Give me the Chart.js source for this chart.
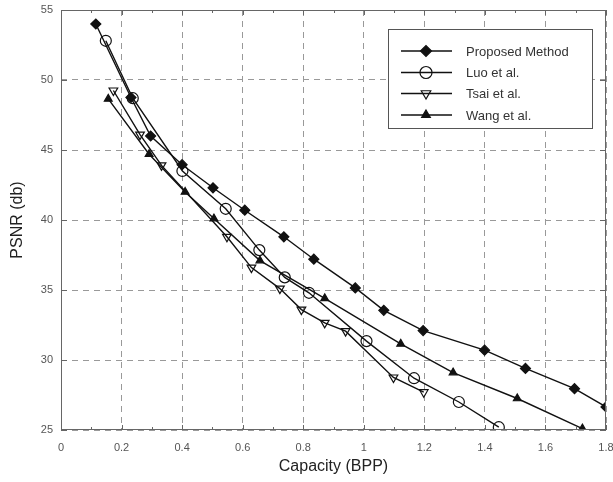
<!DOCTYPE html>
<html><head><meta charset="utf-8">
<script src="https://cdn.jsdelivr.net/npm/chart.js@4/dist/chart.umd.min.js"></script>
<style>html,body{margin:0;padding:0;background:#fff}#wrap{width:613px;height:482px}</style>
</head><body><div id="wrap"><canvas id="c" width="613" height="482"></canvas></div>
<script>
const seriesNames = ["Proposed Method", "Luo et al.", "Tsai et al.", "Wang et al."];
const proposedX = [0.115, 0.231, 0.296, 0.400, 0.502, 0.607, 0.736, 0.835, 0.972, 1.066, 1.196, 1.399, 1.534, 1.696, 1.800];
const proposedY = [54.0, 48.75, 46.0, 43.95, 42.3, 40.7, 38.8, 37.2, 35.15, 33.55, 32.1, 30.7, 29.4, 27.95, 26.65];
const luoX = [0.148, 0.237, 0.401, 0.544, 0.655, 0.739, 0.819, 1.009, 1.166, 1.314, 1.446];
const luoY = [52.8, 48.7, 43.5, 40.8, 37.85, 35.9, 34.8, 31.35, 28.7, 27.0, 25.2];
const tsaiX = [0.173, 0.261, 0.332, 0.548, 0.629, 0.723, 0.794, 0.871, 0.940, 1.098, 1.198];
const tsaiY = [49.25, 46.1, 43.9, 38.8, 36.6, 35.1, 33.6, 32.65, 32.06, 28.75, 27.7];
const wangX = [0.156, 0.291, 0.410, 0.505, 0.657, 0.871, 1.122, 1.295, 1.507, 1.722];
const wangY = [48.65, 44.7, 42.0, 40.1, 37.1, 34.4, 31.15, 29.1, 27.25, 25.1];
const xTicks = [0, 0.2, 0.4, 0.6, 0.8, 1, 1.2, 1.4, 1.6, 1.8];
const yTicks = [25, 30, 35, 40, 45, 50, 55];

const pts = (xs, ys) => xs.map((x, i) => ({x: x, y: ys[i]}));
const lineCol = '#111';
const styles = [
  {pointStyle: 'rectRot', radius: 5, fill: lineCol, rot: 0},
  {pointStyle: 'circle', radius: 5.5, fill: 'rgba(255,255,255,0)', rot: 0},
  {pointStyle: 'triangle', radius: 5, fill: 'rgba(255,255,255,0)', rot: 180},
  {pointStyle: 'triangle', radius: 4.5, fill: lineCol, rot: 0}
];
const data = [pts(proposedX, proposedY), pts(luoX, luoY), pts(tsaiX, tsaiY), pts(wangX, wangY)];

const datasets = data.map((d, i) => ({
  label: seriesNames[i], data: d, showLine: true,
  borderColor: lineCol, borderWidth: 1.4,
  pointStyle: styles[i].pointStyle, pointRadius: styles[i].radius,
  pointRotation: styles[i].rot,
  pointBackgroundColor: styles[i].fill, pointBorderColor: lineCol, pointBorderWidth: 1.2
}));

const framePlugin = {
  id: 'frame',
  afterDatasetsDraw(chart) {
    const {ctx, chartArea: a, scales: {x, y}} = chart;
    ctx.save();
    ctx.strokeStyle = '#666'; ctx.lineWidth = 1;
    ctx.strokeRect(a.left + 0.5, a.top + 0.5, a.right - a.left - 1, a.bottom - a.top - 1);
    // inner ticks
    ctx.beginPath();
    for (let v = 0; v <= 18; v++) {
      const px = Math.round(x.getPixelForValue(v / 10)) + 0.5;
      const len = (v % 2 === 0) ? 5 : 3;
      ctx.moveTo(px, a.bottom); ctx.lineTo(px, a.bottom - len);
      ctx.moveTo(px, a.top); ctx.lineTo(px, a.top + len);
    }
    yTicks.forEach(v => {
      const py = Math.round(y.getPixelForValue(v)) + 0.5;
      ctx.moveTo(a.left, py); ctx.lineTo(a.left + 6, py);
      ctx.moveTo(a.right, py); ctx.lineTo(a.right - 6, py);
    });
    ctx.stroke();
    // legend
    const lx = 388, ly = 29, lw = 204, lh = 99;
    ctx.fillStyle = '#fff';
    ctx.fillRect(lx, ly, lw, lh);
    ctx.strokeStyle = '#555';
    ctx.strokeRect(lx + 0.5, ly + 0.5, lw, lh);
    const rows = [51, 72.5, 93.5, 115];
    ctx.font = '13px "Liberation Sans", Arial, sans-serif';
    ctx.textBaseline = 'middle';
    rows.forEach((ry, i) => {
      ctx.strokeStyle = lineCol; ctx.lineWidth = 1.4;
      ctx.beginPath(); ctx.moveTo(401, ry); ctx.lineTo(452, ry); ctx.stroke();
      ctx.fillStyle = styles[i].fill; ctx.strokeStyle = lineCol; ctx.lineWidth = 1.2;
      Chart.helpers.drawPoint(ctx, {pointStyle: styles[i].pointStyle, radius: styles[i].radius + 0.5, rotation: styles[i].rot, borderWidth: 1.2}, 426, ry);
      ctx.fillStyle = '#333';
      ctx.fillText(seriesNames[i], 466, ry + 1);
    });
    ctx.restore();
  }
};

new Chart(document.getElementById('c'), {
  type: 'scatter',
  data: {datasets},
  options: {
    responsive: false, animation: false,
    layout: {padding: {left: 0, right: 7, top: 10, bottom: 0}},
    plugins: {legend: {display: false}, tooltip: {enabled: false}},
    scales: {
      x: {
        type: 'linear', min: 0, max: 1.8,
        afterBuildTicks(s) { s.ticks = xTicks.map(v => ({value: v})); },
        afterFit(s) { s.height = 52; s.paddingLeft = 0; s.paddingRight = 0; },
        ticks: {color: '#555', font: {size: 11, family: '"Liberation Sans", Arial, sans-serif'}, padding: 11, maxRotation: 0, autoSkip: false,
          callback: v => String(Math.round(v * 10) / 10)},
        grid: {color: '#999', lineWidth: 1, drawTicks: false},
        border: {display: false, dash: [6, 5]},
        title: {display: true, text: 'Capacity (BPP)', color: '#222', font: {size: 16, family: '"Liberation Sans", Arial, sans-serif'}, padding: {top: 0, bottom: 6}}
      },
      y: {
        type: 'linear', min: 25, max: 55,
        afterBuildTicks(s) { s.ticks = yTicks.map(v => ({value: v})); },
        afterFit(s) { s.width = 61; s.paddingTop = 0; s.paddingBottom = 0; },
        ticks: {color: '#555', font: {size: 11, family: '"Liberation Sans", Arial, sans-serif'}, padding: 8},
        grid: {color: '#999', lineWidth: 1, drawTicks: false},
        border: {display: false, dash: [6, 5]},
        title: {display: true, text: 'PSNR (db)', color: '#222', font: {size: 16, family: '"Liberation Sans", Arial, sans-serif'}, padding: {top: 8, bottom: 0}}
      }
    }
  },
  plugins: [framePlugin]
});
</script>
</body></html>
